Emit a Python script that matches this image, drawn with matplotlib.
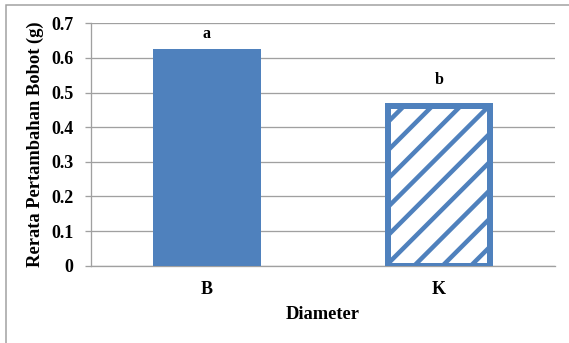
import matplotlib
matplotlib.use("Agg")
import matplotlib.pyplot as plt
from matplotlib.patches import Rectangle

# data
categories = ["B", "K"]
values = [0.625, 0.46]
letters = ["a", "b"]
letter_y = [0.657, 0.525]
yticks = [0, 0.1, 0.2, 0.3, 0.4, 0.5, 0.6, 0.7]
ytick_labels = ["0", "0.1", "0.2", "0.3", "0.4", "0.5", "0.6", "0.7"]

W, H = 569, 343
DPI = 170          # higher dpi -> wider hatch spacing
PT = 72.0 / DPI    # pixels -> points

BLUE = "#4f81bd"
GRID = "#a0a0a0"

plt.rcParams["font.family"] = ["Liberation Serif", "DejaVu Serif"]
plt.rcParams["font.weight"] = "bold"
plt.rcParams["hatch.linewidth"] = 4.5 * PT

fig = plt.figure(figsize=(W / DPI, H / DPI), dpi=DPI)

# outer frame (top and left edges visible)
fig.patches.append(Rectangle((6 / W, -0.1), 1.2, 1 - 5 / H + 0.1,
                             transform=fig.transFigure, fill=False,
                             edgecolor="#a0a0a0", linewidth=1.5 * PT))

left, right, top, bottom = 90.7, 555, 23.3, 265.7
ax = fig.add_axes([left / W, 1 - bottom / H, (right - left) / W, (bottom - top) / H])

x = list(range(len(categories)))
ax.bar(x[0], values[0], width=0.465, color=BLUE, zorder=3)
ax.bar(x[1], values[1], width=0.44, facecolor="white", edgecolor=BLUE,
       linewidth=6 * PT, hatch="//", zorder=3)

for xi, ly, lab in zip(x, letter_y, letters):
    ax.text(xi, ly, lab, ha="center", va="baseline",
            fontsize=16 * PT, fontweight="bold")

ax.set_xlim(-0.5, 1.5)
ax.set_ylim(0, 0.7)
ax.set_yticks(yticks)
ax.set_yticklabels(ytick_labels, fontsize=18 * PT, fontweight="bold")
ax.set_xticks(x)
ax.set_xticklabels(categories, fontsize=18 * PT, fontweight="bold")

ax.tick_params(axis="y", length=6 * PT, width=1.3 * PT, color=GRID, pad=11 * PT, direction="out")
ax.tick_params(axis="x", length=0, pad=15 * PT)

ax.grid(axis="y", color=GRID, linewidth=1.3 * PT, zorder=0)
ax.set_axisbelow(True)
for s in ["top", "right"]:
    ax.spines[s].set_visible(False)
ax.spines["left"].set_color(GRID)
ax.spines["left"].set_linewidth(1.3 * PT)
ax.spines["bottom"].set_color(GRID)
ax.spines["bottom"].set_linewidth(1.3 * PT)

ax.set_ylabel("Rerata Pertambahan Bobot (g)", fontsize=18.5 * PT,
              fontweight="bold", labelpad=7 * PT)
ax.set_xlabel("Diameter", fontsize=18.5 * PT, fontweight="bold", labelpad=8 * PT)

fig.savefig("out.png", dpi=DPI)
